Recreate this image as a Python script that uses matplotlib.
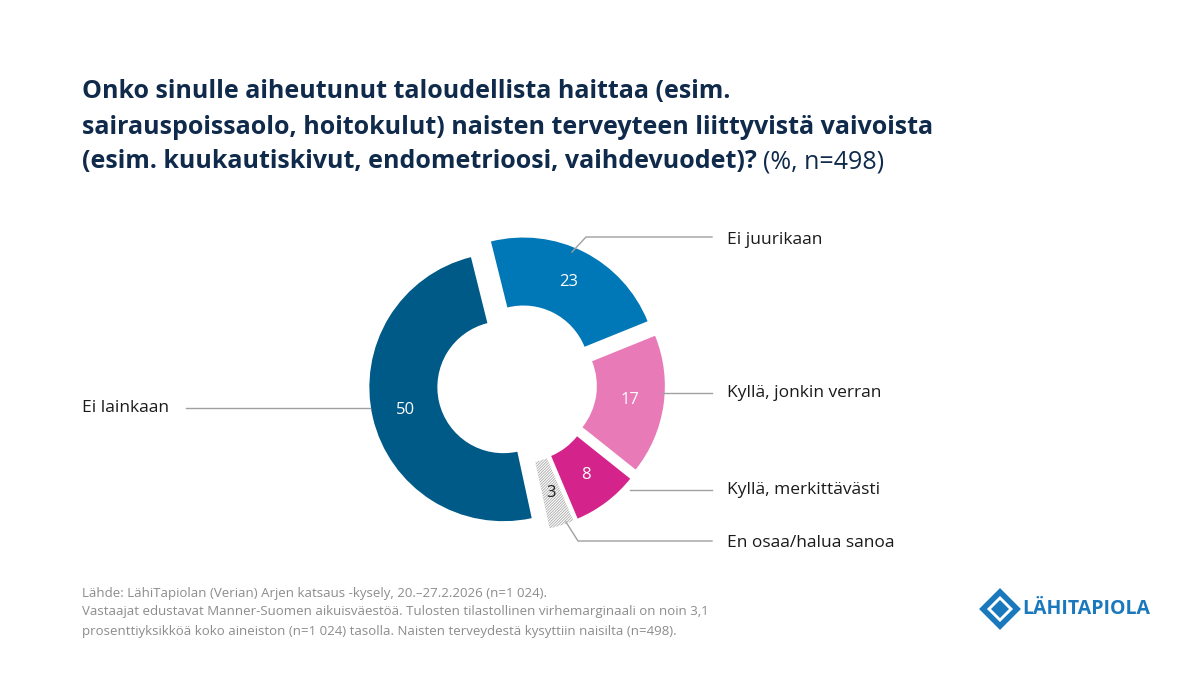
import numpy as np
import matplotlib.pyplot as plt
from matplotlib.patches import Polygon

plt.rcParams['font.family'] = ['Open Sans', 'DejaVu Sans']
plt.rcParams['hatch.linewidth'] = 0.6

labels = ["Ei juurikaan", "Kyllä, jonkin verran", "Kyllä, merkittävästi",
          "En osaa/halua sanoa", "Ei lainkaan"]
values = [23, 17, 8, 3, 50]
colors = ["#0077b6", "#e87ab8", "#d4238a", "#ffffff", "#005a87"]
navy = "#0f2a4a"

W, H = 1200, 675
fig = plt.figure(figsize=(12, 6.75), dpi=100)
fig.patch.set_facecolor("white")

def fx(px): return px / W
def fy(py): return 1 - py / H

# title
fig.text(fx(82), fy(92), "Onko sinulle aiheutunut taloudellista haittaa (esim.",
         fontsize=18, fontweight="bold", color=navy, va="center")
fig.text(fx(82), fy(127), "sairauspoissaolo, hoitokulut) naisten terveyteen liittyvistä vaivoista",
         fontsize=18, fontweight="bold", color=navy, va="center")
t = fig.text(fx(82), fy(162), "(esim. kuukautiskivut, endometrioosi, vaihdevuodet)?",
             fontsize=18, fontweight="bold", color=navy, va="center")
fig.canvas.draw()
bb = t.get_window_extent()
fig.text(bb.x1 / W + 0.005, fy(162), "(%, n=498)", fontsize=18, color=navy, va="center")

# donut
cx, cy, half = 517, 384, 200
ax = fig.add_axes([fx(cx - half), fy(cy + half), 2 * half / W, 2 * half / H])
R, w = 0.67, 0.34
wedges, _ = ax.pie(values, colors=colors, startangle=104, counterclock=False,
                   radius=R, explode=[0.07] * 5,
                   wedgeprops=dict(width=w, linewidth=0))
ax.set_xlim(-1, 1)
ax.set_ylim(-1, 1)
ax.set_aspect("equal")
ax.axis("off")
wedges[3].set_hatch("////////////")
wedges[3].set_edgecolor("#a8a8a8")
wedges[3].set_linewidth(0)
for wd, v in zip(wedges, values):
    ang = np.deg2rad((wd.theta1 + wd.theta2) / 2)
    r = R - w / 2
    x = wd.center[0] + r * np.cos(ang)
    y = wd.center[1] + r * np.sin(ang)
    ax.text(x, y, str(v), ha="center", va="center", fontsize=12,
            color="#222222" if v == 3 else "white")

# leader lines and labels
lc = "#a0a0a0"
lines = [
    ([572, 586, 712], [252, 237, 237], 240),
    ([662, 712], [393, 393], 393),
    ([630, 712], [490, 490], 490),
    ([566, 578, 712], [522, 541, 541], 543),
]
for (xs, ys, ty), lab in zip(lines, labels[:4]):
    fig.add_artist(plt.Line2D([fx(x) for x in xs], [fy(y) for y in ys],
                              color=lc, lw=1))
    fig.text(fx(727), fy(ty), lab, fontsize=12.5, color="#1a1a1a", va="center")
fig.add_artist(plt.Line2D([fx(186), fx(370)], [fy(408), fy(408)], color=lc, lw=1))
fig.text(fx(82), fy(408), labels[4], fontsize=12.5, color="#1a1a1a", va="center")

# footer
foot = ["Lähde: LähiTapiolan (Verian) Arjen katsaus -kysely, 20.–27.2.2026 (n=1 024).",
        "Vastaajat edustavat Manner-Suomen aikuisväestöä. Tulosten tilastollinen virhemarginaali on noin 3,1",
        "prosenttiyksikköä koko aineiston (n=1 024) tasolla. Naisten terveydestä kysyttiin naisilta (n=498)."]
for i, s in enumerate(foot):
    fig.text(fx(82), fy(593 + 19 * i), s, fontsize=9.5, color="#8c8c8c", va="center")

# logo
blue = "#1a78bd"
lx, ly = 1000, 609
outer = [(lx - 17, ly), (lx, ly - 17), (lx + 17, ly), (lx, ly + 17)]
inner = [(lx - 9, ly), (lx, ly - 9), (lx + 9, ly), (lx, ly + 9)]
fig.add_artist(Polygon([(fx(a), fy(b)) for a, b in outer], closed=True,
                       fill=False, ec=blue, lw=4, transform=fig.transFigure))
fig.add_artist(Polygon([(fx(a), fy(b)) for a, b in inner], closed=True,
                       fc=blue, ec=blue, lw=0, transform=fig.transFigure))
fig.text(fx(1022), fy(609), "LÄHITAPIOLA", fontsize=14, fontweight="bold",
         color=blue, va="center")

fig.savefig("out.png", dpi=100)
